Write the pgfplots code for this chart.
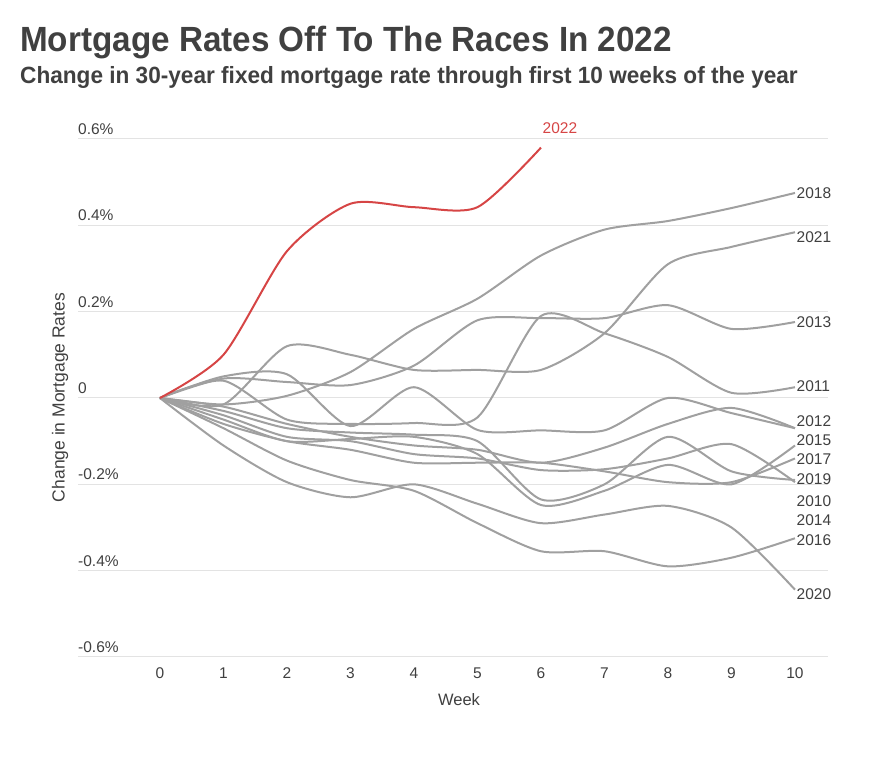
\documentclass[border=0pt]{standalone}
\usepackage{pgfplots}
\pgfplotsset{compat=1.18}
\usepackage{graphicx}
\usepackage{fontspec}
\setmainfont{Liberation Sans}
\definecolor{linegray}{HTML}{A0A0A0}
\definecolor{txt}{HTML}{404040}
\definecolor{redline}{HTML}{D64545}
\definecolor{gridc}{HTML}{E3E3E3}
\begin{document}
\begin{tikzpicture}
\path[use as bounding box] (0,0) rectangle (870pt,783pt);
\node[anchor=base west, inner sep=0pt, text=txt] at (20pt,731pt) {\scalebox{0.95}[1]{\bfseries\fontsize{35}{40}\selectfont Mortgage Rates Off To The Races In 2022}};
\node[anchor=base west, inner sep=0pt, text=txt] at (20pt,699pt) {\scalebox{0.962}[1]{\bfseries\fontsize{23.5}{26}\selectfont Change in 30-year fixed mortgage rate through first 10 weeks of the year}};
\node[rotate=90, text=txt] at (60pt,385.5pt) {\fontsize{17.5}{17.5}\selectfont Change in Mortgage Rates};
\node[text=txt] at (459pt,83pt) {\fontsize{16.5}{16.5}\selectfont Week};
\begin{axis}[
  at={(78pt,126pt)}, anchor=south west,
  scale only axis, width=750pt, height=518pt,
  xmin=-1.29, xmax=10.52, ymin=-0.6, ymax=0.6,
  axis line style={draw=none},
  major tick length=0pt,
  ytick={-0.6,-0.4,-0.2,0,0.2,0.4,0.6},
  yticklabels={-0.6\%,-0.4\%,-0.2\%,0,0.2\%,0.4\%,0.6\%},
  xtick={0,1,2,3,4,5,6,7,8,9,10},
  xticklabels={0,1,2,3,4,5,6,7,8,9,10},
  ymajorgrids, grid style={draw=gridc, line width=1pt},
  yticklabel style={anchor=south west, inner sep=0pt, yshift=4pt, font=\fontsize{15.5}{15.5}\selectfont, text=txt},
  xticklabel style={anchor=center, inner sep=0pt, yshift=-16pt, font=\fontsize{15.5}{15.5}\selectfont, text=txt},
  clip=false,
  every axis plot/.append style={line width=2pt, smooth, tension=0.45, mark=none},
]
% 2018
\addplot[linegray] coordinates {(0,0)(1,-0.015)(2,0.005)(3,0.06)(4,0.16)(5,0.23)(6,0.33)(7,0.39)(8,0.41)(9,0.44)(10,0.475)};
% 2021
\addplot[linegray] coordinates {(0,0)(1,-0.015)(2,0.12)(3,0.10)(4,0.065)(5,0.065)(6,0.065)(7,0.15)(8,0.31)(9,0.35)(10,0.384)};
% 2013
\addplot[linegray] coordinates {(0,0)(1,0.045)(2,0.037)(3,0.03)(4,0.075)(5,0.18)(6,0.185)(7,0.185)(8,0.215)(9,0.16)(10,0.176)};
% 2011
\addplot[linegray] coordinates {(0,0)(1,0.04)(2,-0.05)(3,-0.06)(4,-0.058)(5,-0.045)(6,0.19)(7,0.15)(8,0.095)(9,0.012)(10,0.025)};
% 2012
\addplot[linegray] coordinates {(0,0)(1,0.05)(2,0.055)(3,-0.065)(4,0.025)(5,-0.074)(6,-0.075)(7,-0.075)(8,0.0)(9,-0.035)(10,-0.07)};
% S
\addplot[linegray] coordinates {(0,0)(1,-0.02)(2,-0.06)(3,-0.09)(4,-0.11)(5,-0.12)(6,-0.15)(7,-0.115)(8,-0.06)(9,-0.023)(10,-0.07)};
% T
\addplot[linegray] coordinates {(0,0)(1,-0.03)(2,-0.07)(3,-0.08)(4,-0.085)(5,-0.1)(6,-0.235)(7,-0.2)(8,-0.09)(9,-0.17)(10,-0.19)};
% 2015
\addplot[linegray] coordinates {(0,0)(1,-0.05)(2,-0.1)(3,-0.095)(4,-0.09)(5,-0.13)(6,-0.248)(7,-0.215)(8,-0.155)(9,-0.2)(10,-0.11)};
% U
\addplot[linegray] coordinates {(0,0)(1,-0.04)(2,-0.09)(3,-0.1)(4,-0.13)(5,-0.14)(6,-0.167)(7,-0.165)(8,-0.14)(9,-0.107)(10,-0.195)};
% 2017
\addplot[linegray] coordinates {(0,0)(1,-0.06)(2,-0.1)(3,-0.12)(4,-0.15)(5,-0.15)(6,-0.15)(7,-0.17)(8,-0.195)(9,-0.195)(10,-0.14)};
% 2020
\addplot[linegray] coordinates {(0,0)(1,-0.11)(2,-0.195)(3,-0.23)(4,-0.2)(5,-0.245)(6,-0.29)(7,-0.27)(8,-0.25)(9,-0.3)(10,-0.444)};
% 2016
\addplot[linegray] coordinates {(0,0)(1,-0.07)(2,-0.145)(3,-0.19)(4,-0.215)(5,-0.29)(6,-0.355)(7,-0.355)(8,-0.39)(9,-0.37)(10,-0.325)};
% 2022
\addplot[redline] coordinates {(0,0)(1,0.10)(2,0.34)(3,0.45)(4,0.442)(5,0.442)(6,0.58)};
\begin{scope}[every node/.style={anchor=west, inner sep=1.5pt, text=txt, font=\fontsize{15.5}{15.5}\selectfont}]
\node at (axis cs:10,0.4745) {2018};
\node at (axis cs:10,0.3727) {2021};
\node at (axis cs:10,0.176) {2013};
\node at (axis cs:10,0.0278) {2011};
\node at (axis cs:10,-0.0532) {2012};
\node at (axis cs:10,-0.0972) {2015};
\node at (axis cs:10,-0.1412) {2017};
\node at (axis cs:10,-0.1875) {2019};
\node at (axis cs:10,-0.2384) {2010};
\node at (axis cs:10,-0.2824) {2014};
\node at (axis cs:10,-0.3287) {2016};
\node at (axis cs:10,-0.4537) {2020};
\node[text=redline] at (axis cs:6.0,0.625) {2022};
\end{scope}
\end{axis}
\end{tikzpicture}
\end{document}
